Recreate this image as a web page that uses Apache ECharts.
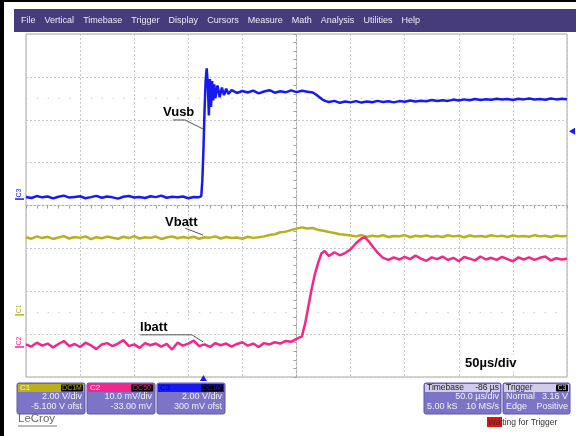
<!DOCTYPE html>
<html><head><meta charset="utf-8">
<script src="https://cdn.jsdelivr.net/npm/echarts@6/dist/echarts.min.js"></script>
<style>html,body{margin:0;padding:0;background:#fff}#c{width:576px;height:436px}</style>
</head><body><div id="c"></div>
<script>
// ---------------- DATA ----------------
const menuItems = ['File','Vertical','Timebase','Trigger','Display','Cursors','Measure','Math','Analysis','Utilities','Help'];

// time in µs relative to screen centre, Vusb in V (C3)
const vusbData = [[-250,0.10],[-245,0.05],[-240,0.14],[-235,0.08],[-230,0.12],[-225,0.03],[-220,0.11],[-215,0.16],[-210,0.07],[-205,0.10],[-200,0.13],[-195,0.04],[-190,0.09],[-185,0.15],[-180,0.06],[-175,0.12],[-170,0.08],[-165,0.02],[-160,0.11],[-155,0.14],[-150,0.07],[-145,0.10],[-140,0.05],[-135,0.13],[-130,0.09],[-125,0.16],[-120,0.06],[-115,0.11],[-110,0.08],[-105,0.12],[-100,0.04],[-95,0.10],[-90,0.09],[-88,0.14],[-87,0.9],[-86,2.3],[-85,4.1],[-84,5.5],[-83,6.1],[-82,5.4],[-81,3.9],[-80,5.6],[-79,4.3],[-78,5.5],[-77,4.6],[-76,5.35],[-75,4.7],[-73,5.3],[-71,4.75],[-69,5.2],[-67,4.85],[-65,5.15],[-63,4.9],[-60,5.08],[-55,4.95],[-50,5.04],[-45,4.97],[-40,5.06],[-35,4.93],[-30,5.02],[-25,5.08],[-20,4.96],[-15,5.03],[-10,4.98],[-5,5.07],[0,4.99],[5,5.05],[10,5.01],[15,4.97],[18,4.88],[21,4.76],[24,4.64],[27,4.57],[30,4.53],[35,4.58],[40,4.49],[45,4.55],[50,4.51],[55,4.57],[60,4.50],[65,4.55],[70,4.52],[75,4.58],[80,4.53],[85,4.56],[90,4.51],[95,4.57],[100,4.54],[105,4.60],[110,4.55],[115,4.59],[120,4.56],[125,4.62],[130,4.57],[135,4.61],[140,4.58],[145,4.64],[150,4.60],[155,4.65],[160,4.61],[165,4.67],[170,4.62],[175,4.66],[180,4.63],[185,4.68],[190,4.64],[195,4.67],[200,4.62],[205,4.68],[210,4.65],[215,4.69],[220,4.64],[225,4.67],[230,4.63],[235,4.69],[240,4.65],[245,4.68],[250,4.66]];

// Vbatt in V (C1)
const vbattData = [[-250,3.62],[-245,3.55],[-240,3.66],[-235,3.58],[-230,3.64],[-225,3.54],[-220,3.61],[-215,3.67],[-210,3.56],[-205,3.63],[-200,3.59],[-195,3.66],[-190,3.53],[-185,3.62],[-180,3.57],[-175,3.65],[-170,3.60],[-165,3.55],[-160,3.64],[-155,3.58],[-150,3.67],[-145,3.56],[-140,3.62],[-135,3.59],[-130,3.65],[-125,3.54],[-120,3.61],[-115,3.66],[-110,3.57],[-105,3.63],[-100,3.58],[-95,3.64],[-90,3.55],[-85,3.62],[-80,3.60],[-75,3.66],[-70,3.56],[-65,3.63],[-60,3.58],[-55,3.61],[-50,3.55],[-45,3.64],[-40,3.59],[-35,3.62],[-30,3.66],[-25,3.72],[-20,3.76],[-15,3.85],[-10,3.88],[-5,3.95],[0,4.02],[5,4.08],[10,4.03],[15,4.05],[20,3.96],[25,3.92],[30,3.86],[35,3.82],[40,3.76],[45,3.74],[50,3.70],[55,3.66],[60,3.72],[65,3.64],[70,3.69],[75,3.65],[80,3.71],[85,3.63],[90,3.68],[95,3.66],[100,3.72],[105,3.62],[110,3.69],[115,3.65],[120,3.70],[125,3.64],[130,3.68],[135,3.63],[140,3.71],[145,3.66],[150,3.69],[155,3.62],[160,3.70],[165,3.65],[170,3.68],[175,3.64],[180,3.71],[185,3.66],[190,3.69],[195,3.63],[200,3.70],[205,3.65],[210,3.68],[215,3.64],[220,3.72],[225,3.66],[230,3.69],[235,3.63],[240,3.70],[245,3.66],[250,3.68]];

// Ibatt probe voltage in mV (C2)
const ibattData = [[-250,0.6],[-245,0.1],[-240,1.0],[-235,0.3],[-230,0.8],[-225,-0.1],[-220,0.7],[-215,1.4],[-210,0.2],[-205,0.7],[-200,0.0],[-195,1.0],[-190,0.4],[-185,-0.5],[-180,0.6],[-175,0.9],[-170,0.2],[-165,0.8],[-160,1.6],[-155,0.2],[-150,0.6],[-145,-0.2],[-140,0.9],[-135,0.4],[-130,0.8],[-125,0.1],[-120,0.7],[-115,-0.6],[-110,1.0],[-105,0.3],[-100,0.8],[-95,1.5],[-90,0.2],[-85,0.6],[-80,0.0],[-75,0.9],[-70,0.4],[-65,0.8],[-60,0.1],[-55,0.7],[-50,1.1],[-45,0.3],[-40,0.8],[-35,0.0],[-30,0.9],[-25,0.6],[-20,1.1],[-15,0.8],[-10,1.4],[-5,1.2],[0,1.9],[5,2.5],[8,5.5],[11,9.5],[14,13.5],[17,17.0],[20,19.6],[23,21.8],[26,22.4],[30,21.2],[35,22.1],[40,21.4],[45,21.9],[50,22.8],[55,24.2],[60,25.3],[63,25.6],[67,24.6],[71,23.2],[75,22.0],[80,20.8],[85,20.3],[90,20.9],[95,20.4],[100,21.0],[105,20.5],[110,21.3],[115,20.6],[120,20.1],[125,20.9],[130,20.5],[135,21.1],[140,20.3],[145,20.8],[150,20.0],[155,21.0],[160,20.6],[165,20.2],[170,21.1],[175,20.4],[180,20.8],[185,20.3],[190,21.0],[195,20.5],[200,20.0],[205,20.9],[210,20.4],[215,20.9],[220,20.3],[225,20.8],[230,21.1],[235,20.2],[240,20.7],[245,20.4],[250,20.6]];

// channel settings: C1 (Vbatt), C2 (Ibatt), C3 (Vusb)
const chNames    = ['C1','C2','C3'];
const chCoupling = ['DC1M','DC50','DC1M'];
const chScaleTxt = ['2.00 V/div','10.0 mV/div','2.00 V/div'];
const chOfstTxt  = ['-5.100 V ofst','-33.00 mV','300 mV ofst'];
const chPerDiv   = [2, 10, 2];
const chOffset   = [-5.1, -33, 0.3];
const timePerDiv = 50;      // µs/div
const trigDelay  = -86;     // µs
const trigLevel  = 3.16;    // V on C3
const timebaseTxt = ['Timebase','-86 µs','50.0 µs/div','5.00 kS','10 MS/s'];
const triggerTxt  = ['Trigger','C3','Normal','3.16 V','Edge','Positive'];
const traceNames  = ['Vusb','Vbatt','Ibatt'];
const divLabel    = '50µs/div';
const statusTxt   = 'Waiting for Trigger';
const brandTxt    = 'LeCroy';

// ---------------- STYLE ----------------
const chColors = ['#b8b11c','#f0288c','#1818f0'];
const FONT = '"Liberation Sans", Arial, Helvetica, sans-serif';
const gridColor = '#c8c8c8';

function rng(i){ const c=-chOffset[i]; return [c-4*chPerDiv[i], c+4*chPerDiv[i]]; }

const chart = echarts.init(document.getElementById('c'), null, {renderer:'canvas'});
const hiddenY = (i)=>({type:'value', show:false, min:rng(i)[0], max:rng(i)[1], splitLine:{show:false}});
const option = {
  animation:false,
  backgroundColor:'#fff',
  grid:{left:26, top:34, right:9, bottom:59, show:true, backgroundColor:'#fff', borderColor:'#a6a6a6', borderWidth:1, containLabel:false, outerBoundsMode:'none'},
  xAxis:[{type:'value', min:-5*timePerDiv, max:5*timePerDiv, interval:timePerDiv,
    axisLabel:{show:false},
    axisLine:{show:true, onZero:true, onZeroAxisIndex:0, lineStyle:{color:'#a8a8a8', type:[2,2]}},
    axisTick:{show:true, length:3, lineStyle:{color:'#a0a0a0'}},
    minorTick:{show:true, splitNumber:5, length:3, lineStyle:{color:'#a0a0a0'}},
    splitLine:{show:true, lineStyle:{color:gridColor, type:[2,2]}}}],
  yAxis:[{type:'value', min:-4, max:4, interval:1,
    axisLabel:{show:false},
    axisLine:{show:true, onZero:true, lineStyle:{color:'#a8a8a8', type:[2,2]}},
    axisTick:{show:true, length:3, lineStyle:{color:'#a0a0a0'}},
    minorTick:{show:true, splitNumber:5, length:3, lineStyle:{color:'#a0a0a0'}},
    splitLine:{show:true, lineStyle:{color:gridColor, type:[2,2]}}},
    hiddenY(2), hiddenY(0), hiddenY(1)],
  series:[
    {name:traceNames[0], type:'line', yAxisIndex:1, data:vusbData, showSymbol:false, symbol:'none', lineStyle:{color:chColors[2], width:2.5}, z:3},
    {name:traceNames[1], type:'line', yAxisIndex:2, data:vbattData, showSymbol:false, symbol:'none', lineStyle:{color:chColors[0], width:2.5}, z:3},
    {name:traceNames[2], type:'line', yAxisIndex:3, data:ibattData, showSymbol:false, symbol:'none', lineStyle:{color:chColors[1], width:2.5}, z:4}
  ]
};
chart.setOption(option);

// ---------------- GRAPHIC OVERLAYS ----------------
const G = [];
const R = (x,y,w,h,fill,extra)=>G.push(Object.assign({type:'rect', silent:true, shape:{x,y,width:w,height:h,r:(extra&&extra.r)||0}, style:{fill, stroke:(extra&&extra.stroke)||null, lineWidth:1}, z:(extra&&extra.z)||100}));
const T = (s,x,y,size,fill,align,weight,extra)=>G.push(Object.assign({type:'text', silent:true, z:110, style:{text:s, x, y, fill, font:(weight||'normal')+' '+size+'px '+FONT, textAlign:align||'left', textVerticalAlign:'middle'}}, extra||{}));
const L = (pts,stroke,w,z)=>G.push({type:'polyline', silent:true, z:z||105, shape:{points:pts}, style:{stroke, lineWidth:w||1, fill:null}});

// frame
R(0,0,576,2,'#000');
R(0,0,4,436,'#000');
// menu bar
R(14,9,562,23,'#463c7c');
const ctx = document.createElement('canvas').getContext('2d');
ctx.font = '9px '+FONT;
const widths = menuItems.map(m=>ctx.measureText(m).width);
const totalW = widths.reduce((a,b)=>a+b,0);
const gap = (420-21-totalW)/(menuItems.length-1);
let mx = 21;
menuItems.forEach((m,i)=>{ T(m,mx,20.5,9,'#ecebf5','left'); mx += widths[i]+gap; });

// dotted graticule lines at +/-2.5 div
const gx0 = chart.convertToPixel({xAxisIndex:0}, -5*timePerDiv);
const gx1 = chart.convertToPixel({xAxisIndex:0}, 5*timePerDiv);
[2.5,-2.5].forEach(d=>{
  const yy = chart.convertToPixel({yAxisIndex:0}, d);
  G.push({type:'line', silent:true, z:1, shape:{x1:gx0, y1:yy, x2:gx1, y2:yy}, style:{stroke:'#c8c8c8', lineWidth:1, lineDash:[1.5,9.3]}});
});

// trace labels with leader lines (anchored at data points)
const tipT = -86.4;
function anchor(seriesIndex, v){ return chart.convertToPixel({seriesIndex}, [tipT, v]); }
let p = anchor(0, 3.27);
L([[p[0]-30,p[1]-9],[p[0]-18,p[1]-9],[p[0],p[1]]],'#555',1);
T(traceNames[0], p[0]-40, p[1]-17, 13, '#000', 'left', 'bold');
p = anchor(1, 3.72);
L([[p[0]-18,p[1]-7],[p[0],p[1]]],'#555',1);
T(traceNames[1], p[0]-38, p[1]-13, 13, '#000', 'left', 'bold');
p = anchor(2, 1.2);
R(p[0]-66, p[1]-22, 58, 14, '#fff', {z:104});
L([[p[0]-63,p[1]-7],[p[0]-11,p[1]-7],[p[0],p[1]]],'#555',1);
T(traceNames[2], p[0]-63, p[1]-14, 13, '#000', 'left', 'bold');

// time/div label
R(460, 355, 64, 16, '#fff', {z:104});
T(divLabel, 465, 363, 13, '#000', 'left', 'bold');

// trigger markers
const tx = chart.convertToPixel({xAxisIndex:0}, trigDelay);
G.push({type:'polygon', silent:true, z:120, shape:{points:[[tx,375],[tx-3.5,381],[tx+3.5,381]]}, style:{fill:chColors[2]}});
const ty = chart.convertToPixel({seriesIndex:0}, [0, trigLevel])[1];
G.push({type:'polygon', silent:true, z:120, shape:{points:[[569,ty],[575,ty-3.5],[575,ty+3.5]]}, style:{fill:chColors[2]}});

// ground markers on left
[[1,0],[2,1],[0,2]].forEach(([sIdx,ci])=>{
  const gy = chart.convertToPixel({seriesIndex:sIdx}, [0,0])[1];
  L([[15,gy],[24,gy]], chColors[ci], 1.5, 120);
  G.push({type:'text', silent:true, z:120, rotation:Math.PI/2, x:19.5, y:gy-6, style:{text:chNames[ci], x:0, y:0, fill:chColors[ci], font:'7px '+FONT, textAlign:'center', textVerticalAlign:'middle'}});
});

// channel info boxes
const bodyFill = '#7c75c6', boxStroke = '#5e57a8', bodyText = '#f2f2ff';
for (let i=0;i<3;i++){
  const x0 = 17 + i*70;
  R(x0,383,68,31,bodyFill,{stroke:boxStroke, r:2});
  R(x0+1,384,66,8,chColors[i]);
  T(chNames[i], x0+3, 388, 8, i===2?'#000070':'#f4f4f4', 'left');
  R(x0+44,384.5,22,7,'#000',{r:1, z:102});
  T(chCoupling[i], x0+55, 388.2, 7, chColors[i], 'center');
  T(chScaleTxt[i], x0+65, 397, 9, bodyText, 'right');
  T(chOfstTxt[i], x0+65, 407, 9, bodyText, 'right');
}
// timebase box
R(424,383,77,31,bodyFill,{stroke:boxStroke, r:2});
R(425,384,75,8,'#d0cce9');
T(timebaseTxt[0], 427, 388, 8.5, '#222', 'left');
T(timebaseTxt[1], 499, 388, 8.5, '#222', 'right');
T(timebaseTxt[2], 499, 397, 9, bodyText, 'right');
T(timebaseTxt[3], 427, 407, 9, bodyText, 'left');
T(timebaseTxt[4], 499, 407, 9, bodyText, 'right');
// trigger box
R(503,383,67,31,bodyFill,{stroke:boxStroke, r:2});
R(504,384,65,8,'#d0cce9');
T(triggerTxt[0], 506, 388, 8.5, '#222', 'left');
R(556,384.5,12,7,'#000',{r:1, z:102});
T(triggerTxt[1], 562, 388.2, 7, '#d8d8d8', 'center');
T(triggerTxt[2], 506, 397, 9, bodyText, 'left');
T(triggerTxt[3], 568, 397, 9, bodyText, 'right');
T(triggerTxt[4], 506, 407, 9, bodyText, 'left');
T(triggerTxt[5], 568, 407, 9, bodyText, 'right');

// status + brand
R(487,417,15,10,'#e01414');
T(statusTxt, 488, 422.5, 8.5, '#333', 'left');
T(brandTxt, 18, 419, 11.5, '#666', 'left');
L([[18,426],[57,426]], '#777', 1);

chart.setOption({graphic:{elements:G}});
</script>
</body></html>
